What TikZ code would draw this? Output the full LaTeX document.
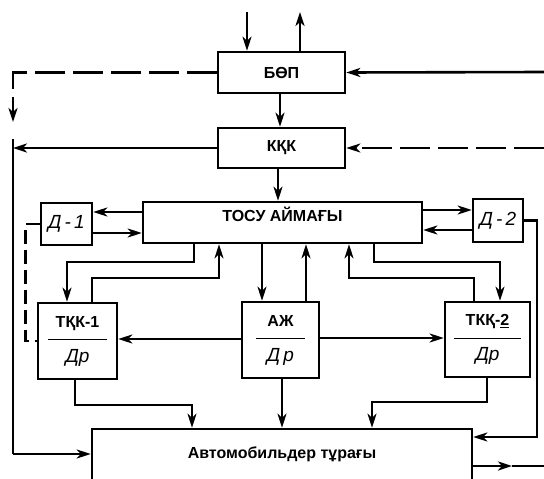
\documentclass[tikz,border=0pt]{standalone}
\usepackage{fontspec}
\setmainfont{Liberation Sans}
\usetikzlibrary{arrows.meta}

\newcommand{\drtext}[1]{{\mdseries\itshape\fontsize{19}{22}\selectfont #1}}

\begin{document}
\begin{tikzpicture}[x=1pt, y=-1pt, line width=2.6pt,
  >={Stealth[length=14pt, width=9pt, inset=4pt]},
  bx/.style={draw, line width=2.6pt, inner sep=0pt, align=center,
             font=\bfseries\fontsize{16}{19}\selectfont},
  dbx/.style={bx, font=\mdseries\itshape\fontsize{19}{22}\selectfont},
  tbx/.style={bx, minimum height=76pt},
  dsh/.style={dash pattern=on 30pt off 8pt},
  dshs/.style={dash pattern=on 14pt off 6pt}]
\useasboundingbox[fill=white] (0,0) rectangle (544,479);
% upper blocks
\node[bx, minimum width=127pt, minimum height=41pt] (bop) at (281.5,72.5) {БӨП};
\node[bx, minimum width=127pt, minimum height=40pt] (kkk) at (281.5,148) {КҚК};
\node[bx, minimum width=279pt, minimum height=41pt, text depth=16pt] (tosu) at (282.5,222.5) {ТОСУ АЙМАҒЫ};
\node[dbx, minimum width=51pt, minimum height=42pt] (d1) at (66.5,224) {Д\,-\,1};
\node[dbx, minimum width=50pt, minimum height=43pt] (d2) at (498,220.5) {Д\,-\,2};
% middle blocks
\node[tbx, minimum width=79pt] (tkk1) at (77.5,341)
  {ТҚК-1\\[-6pt]\rule{59pt}{0.9pt}\\[3pt]\drtext{Др}};
\node[tbx, minimum width=77pt] (azh) at (280.5,340)
  {АЖ\\[-6pt]\rule{49pt}{0.9pt}\\[3pt]\drtext{Д\,р}};
\node[tbx, minimum width=85pt, minimum height=75pt] (tkk2) at (487.5,339.5)
  {ТКҚ-\underline{2}\\[-6pt]\rule{67pt}{0.9pt}\\[3pt]\drtext{Др}};
% lower block
\node[bx, minimum width=380pt, minimum height=61pt, text depth=14pt] (auto) at (282,459.5)
  {Автомобильдер тұрағы};
% free ends
\coordinate (in1) at (247,12);
\coordinate (out1) at (300,12);
\coordinate (rin) at (544,72);
\coordinate (rdsh) at (544,148);
\coordinate (lbus) at (13,139);
\coordinate (lbusb) at (13,454);
\coordinate (lout) at (512,466);
\coordinate (ledge) at (544,466);
% top inputs and feedback
\draw[->] (in1) -- (in1 |- bop.north);
\draw[->] (out1 |- bop.north) -- (out1);
\draw[->] (rin) -- (bop.east);
\draw[->, dsh] (bop.west) -| (13,122);
\draw[->] (bop.south -| 280,0) -- (kkk.north -| 280,0);
\draw[->, dsh] (rdsh) -- (kkk.east);
\draw[->] (kkk.west) -- (lbus |- kkk.west);
\draw (lbus) -- (lbusb);
\draw[->] (lbusb) -- (auto.west |- lbusb);
\draw[->] (kkk.south -| 278,0) -- (tosu.north -| 278,0);
% sensors
\draw[->] (tosu.west |- 0,212) -- (d1.east |- 0,212);
\draw[->] (d1.east |- 0,233) -- (tosu.west |- 0,233);
\draw[->] (tosu.east |- 0,210) -- (d2.west |- 0,210);
\draw[->] (d2.west |- 0,230) -- (tosu.east |- 0,230);
\draw[dshs] (d1.west) -- ++(-14,0) |- (tkk1.west);
\draw[->] (d2.east) -| (537,437) -- (auto.east |- 0,437);
% zone <-> posts
\draw[->] (tosu.south -| 194,0) |- (67,262) -- (tkk1.north -| 67,0);
\draw[->] (tkk1.north -| 92,0) |- (219,278) -- (tosu.south -| 219,0);
\draw[->] (tosu.south -| 262,0) -- (azh.north -| 262,0);
\draw[->] (azh.north -| 306,0) -- (tosu.south -| 306,0);
\draw[->] (tkk2.north -| 474,0) |- (349,278) -- (tosu.south -| 349,0);
\draw[->] (tosu.south -| 374,0) |- (500,262) -- (tkk2.north -| 500,0);
\draw[->] (azh.west |- 0,339) -- (tkk1.east |- 0,339);
\draw[->] (azh.east |- 0,338) -- (tkk2.west |- 0,338);
% posts -> parking
\draw[->] (tkk1.south -| 75,0) |- (192,405) -- (auto.north -| 192,0);
\draw[->] (azh.south -| 282,0) -- (auto.north -| 282,0);
\draw[->] (tkk2.south -| 487,0) |- (372,402) -- (auto.north -| 372,0);
\draw[->] (auto.east |- lout) -- (lout);
\draw (lout) -- (ledge);
\end{tikzpicture}
\end{document}
